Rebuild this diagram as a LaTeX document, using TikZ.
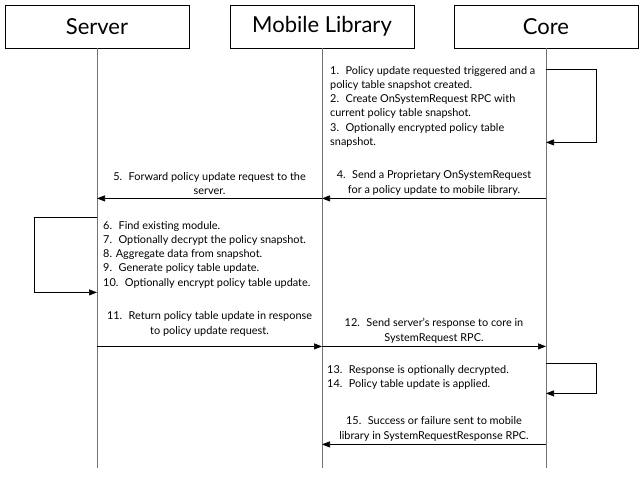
\documentclass[tikz,border=0pt]{standalone}
\usepackage{fontspec}
\setmainfont{Lato}
\usetikzlibrary{arrows.meta}

\begin{document}
\begin{tikzpicture}[x=1pt,y=-1pt,
    actor/.style={draw,line width=0.8pt,minimum width=184pt,minimum height=43pt,
      font=\fontsize{22}{26}\selectfont},
    life/.style={draw=black!55,line width=0.6pt},
    msg/.style={line width=0.7pt,-{Triangle[length=8pt,width=6pt]}},
    txt/.style={font=\fontsize{10.9}{14.2}\selectfont,inner sep=0pt},
    note/.style={txt,align=left,anchor=north west},
    lbl/.style={txt,align=center,above=3pt}]
  \useasboundingbox (0,0) rectangle (640,480);
  % participants
  \node[actor] (server) at (97,26.5) {Server};
  \node[actor] (mobile) at (322,26.5) {Mobile Library};
  \node[actor] (core) at (546,26.5) {Core};
  \foreach \p in {server,mobile,core}{
    \draw[life] (\p.south) -- ++(0,420) coordinate (\p end);
    \path (\p.south) ++(0,150) coordinate (\p 4)
                     ++(0,148) coordinate (\p 11)
                     ++(0,98) coordinate (\p 15);
  }
  % core prepares the snapshot
  \path (core.south) ++(0,21) coordinate (c1) ++(0,73) coordinate (c3);
  \draw[msg] (c1) -- ++(50,0) |- (c3);
  \node[note] (n1) at (330,66) {1.~ Policy update requested triggered and a\\
    policy table snapshot created.\\
    2.~ Create OnSystemRequest RPC with\\
    current policy table snapshot.\\
    3.~ Optionally encrypted policy table\\
    snapshot.};
  % request forwarded to the server
  \draw[msg] (core4) -- (mobile4) node[lbl,midway] (l4)
    {4.~ Send a Proprietary OnSystemRequest\\for a policy update to mobile library.};
  \draw[msg] (mobile4) -- (server4) node[lbl,midway] (l5)
    {5.~ Forward policy update request to the\\server.};
  % server side work
  \path (server.south) ++(0,169) coordinate (s6) ++(0,75) coordinate (s10);
  \draw[msg] (s6) -- ++(-63,0) |- (s10);
  \node[note] (n6) at (103,221) {6.~ Find existing module.\\
    7.~ Optionally decrypt the policy snapshot.\\
    8. Aggregate data from snapshot.\\
    9.~ Generate policy table update.\\
    10.~ Optionally encrypt policy table update.};
  % response back to core
  \draw[msg] (server11) -- (mobile11) node[lbl,midway,above=7pt] (l11)
    {11.~ Return policy table update in response\\to policy update request.};
  \draw[msg] (mobile11) -- (core11) node[lbl,midway] (l12)
    {12.~ Send server's response to core in\\SystemRequest RPC.};
  % core applies the update
  \path (core.south) ++(0,315) coordinate (c13) ++(0,30) coordinate (c14);
  \draw[msg] (c13) -- ++(50,0) |- (c14);
  \node[note] (n13) at (327,365) {13.~ Response is optionally decrypted.\\
    14.~ Policy table update is applied.};
  \draw[msg] (core15) -- (mobile15) node[lbl,midway] (l15)
    {15.~ Success or failure sent to mobile\\library in SystemRequestResponse RPC.};
\end{tikzpicture}
\end{document}
